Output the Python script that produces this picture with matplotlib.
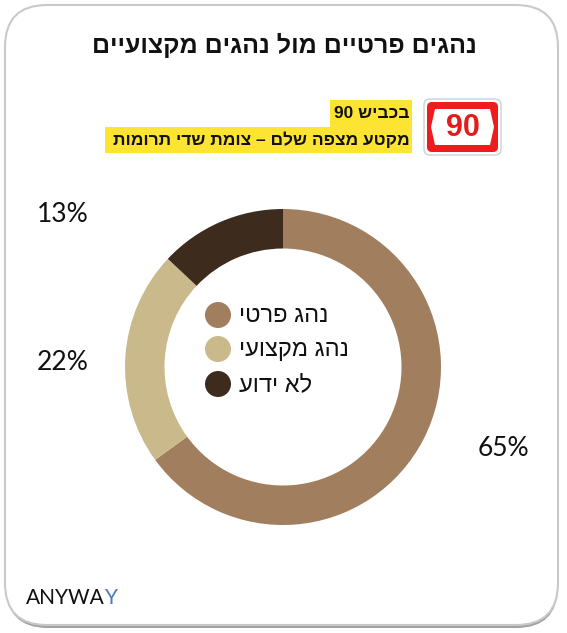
import matplotlib
matplotlib.use("Agg")
import matplotlib.pyplot as plt
from matplotlib.patches import FancyBboxPatch, Rectangle, Circle, Polygon

# ---- data ----
categories = ["נהג פרטי", "נהג מקצועי", "לא ידוע"]
values = [65, 22, 13]
colors = ["#a17f5e", "#c9b98b", "#3d2b1d"]
title = "נהגים פרטיים מול נהגים מקצועיים"
road_word = "בכביש"
road_number = "90"
segment = "מקטע מצפה שלם – צומת שדי תרומות"
brand = "ANYWA"
brand_last = "Y"

def vis(s):
    """Hebrew logical order -> visual order for LTR renderer."""
    return s[::-1]

W, H = 567, 633
fig = plt.figure(figsize=(W / 100, H / 100), dpi=100)
fig.patch.set_facecolor("white")

bg = fig.add_axes([0, 0, 1, 1])
bg.set_xlim(0, W)
bg.set_ylim(H, 0)
bg.axis("off")

# card with shadow
bg.add_patch(FancyBboxPatch((6, 8), 552, 620, boxstyle="round,pad=0,rounding_size=42",
                            facecolor="#8a8a8a", edgecolor="none", alpha=0.8, zorder=1))
bg.add_patch(FancyBboxPatch((5, 5), 553, 620, boxstyle="round,pad=0,rounding_size=42",
                            facecolor="white", edgecolor="#c9c9c9", linewidth=1.5, zorder=2))

HEB = ["Liberation Sans", "DejaVu Sans"]

# title
bg.text(284, 45, vis(title), ha="center", va="center", fontsize=18, fontweight="bold",
        family=HEB, color="#111111", zorder=5)

# highlighted subtitle
bg.add_patch(Rectangle((330, 100), 82, 27, facecolor="#fde433", edgecolor="none", zorder=3))
bg.add_patch(Rectangle((105, 127), 307, 26, facecolor="#fde433", edgecolor="none", zorder=3))
bg.text(410, 114, road_number + " " + vis(road_word), ha="right", va="center", fontsize=12.5,
        fontweight="bold", family=HEB, color="#111111", zorder=5)
bg.text(410, 140, vis(segment), ha="right", va="center", fontsize=12.5,
        fontweight="bold", family=HEB, color="#111111", zorder=5)

# road sign
bg.add_patch(FancyBboxPatch((424, 99), 77, 56, boxstyle="round,pad=0,rounding_size=6",
                            facecolor="white", edgecolor="#d0d0d0", linewidth=1, zorder=3))
bg.add_patch(FancyBboxPatch((427, 102), 71, 50, boxstyle="round,pad=0,rounding_size=5",
                            facecolor="#ee1c1c", edgecolor="none", zorder=4))
bg.add_patch(Polygon([(435, 109), (490, 109), (494, 127), (490, 145), (435, 145), (431, 127)],
                     closed=True, facecolor="white", edgecolor="none", zorder=5))
bg.text(462.5, 127.5, road_number, ha="center", va="center", fontsize=22, fontweight="bold",
        family="Liberation Sans", color="#e41b1b", zorder=6)

# donut
pax = fig.add_axes([125 / W, (H - 525) / H, 316 / W, 316 / H])
pax.pie(values, colors=colors, startangle=90, counterclock=False, radius=1,
        wedgeprops=dict(width=0.25, edgecolor="none"))
pax.set_xlim(-1, 1)
pax.set_ylim(-1, 1)
pax.set_aspect("equal")
pax.axis("off")

# legend inside hole
leg_y = [315, 349, 384]
for cat, col, y in zip(categories, colors, leg_y):
    bg.add_patch(Circle((218, y), 13, facecolor=col, edgecolor="none", zorder=5))
    bg.text(239, y + 1, vis(cat), ha="left", va="center", fontsize=17, family=HEB,
            color="#111111", zorder=5)

# percent labels
label_pos = [(503, 448), (63, 362), (63, 214)]
for v, (x, y) in zip(values, label_pos):
    bg.text(x, y, f"{v}%", ha="center", va="center", fontsize=19, family="Lato",
            color="#111111", zorder=5)

# brand
t = bg.text(26, 598, brand, ha="left", va="center", fontsize=15, family="Lato",
            color="#111111", zorder=5)
fig.canvas.draw()
bb = t.get_window_extent()
bg.annotate(brand_last, xy=(bb.x1, (bb.y0 + bb.y1) / 2), xycoords="figure pixels",
            ha="left", va="center", fontsize=15, family="Lato", color="#4a7ab8", zorder=5)

fig.savefig("out.png", dpi=100, facecolor="white")
